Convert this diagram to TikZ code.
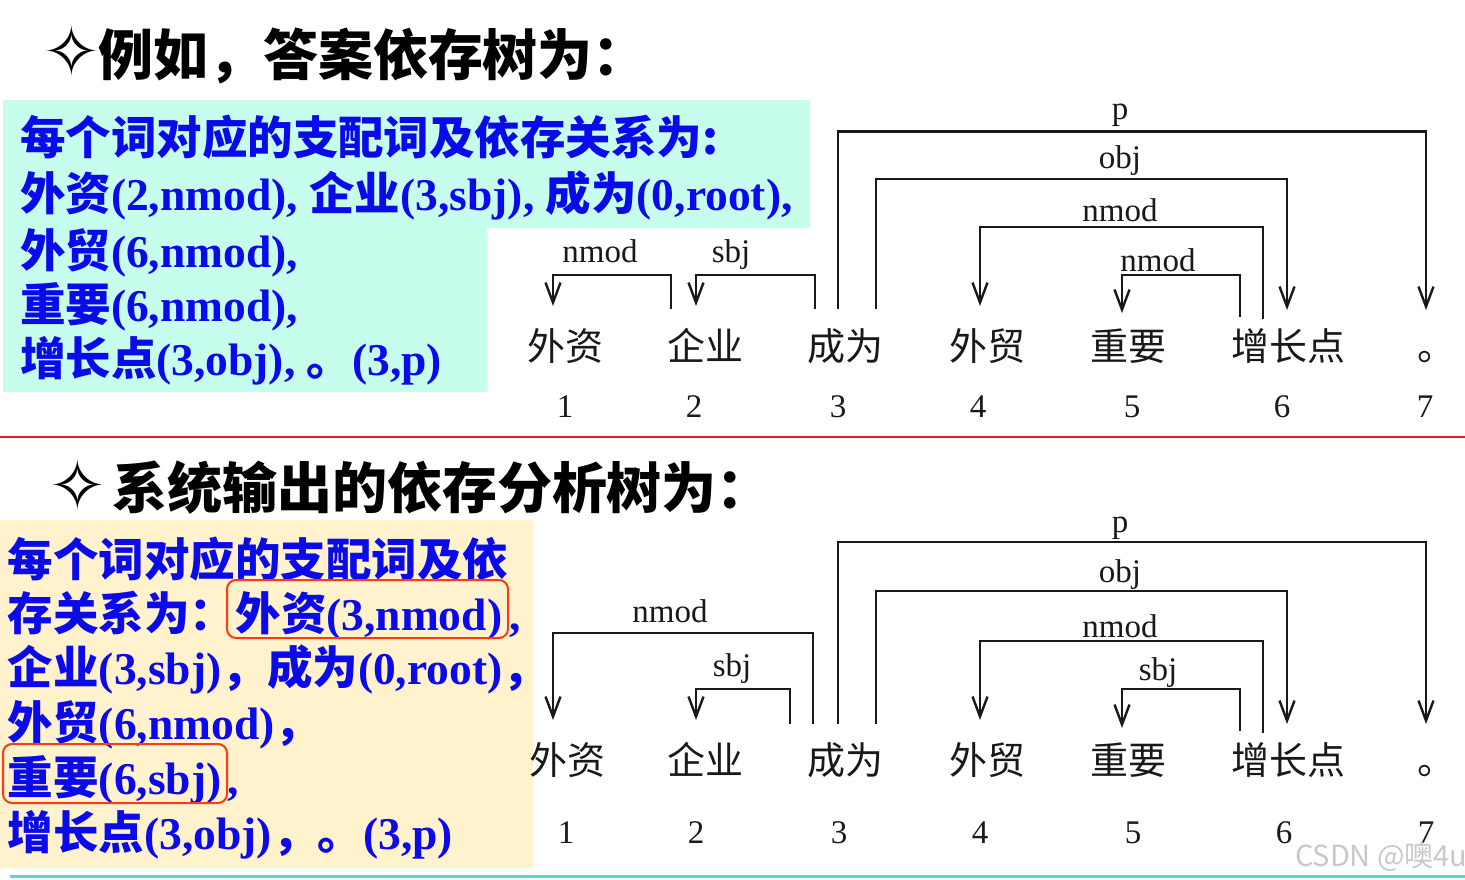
\documentclass[tikz,border=0pt]{standalone}
\usepackage{fontspec}
\setmainfont{Liberation Serif}
\newfontfamily\cjk{Noto Sans CJK SC}
\newfontfamily\sym{DejaVu Sans}
\usetikzlibrary{arrows.meta}
\definecolor{mint}{RGB}{198,253,236}
\definecolor{cream}{RGB}{255,242,204}
\definecolor{blueT}{RGB}{10,10,235}
\definecolor{redL}{RGB}{228,30,36}
\definecolor{redBox}{RGB}{250,60,20}
\definecolor{tealL}{RGB}{90,212,212}
\definecolor{ink}{RGB}{25,25,25}
\definecolor{wm}{RGB}{200,200,200}
\newcommand\zh[1]{{\cjk #1}}
\begin{document}
\begin{tikzpicture}[x=1pt,y=-1pt,
  every node/.style={inner sep=0pt, outer sep=0pt},
  title/.style={anchor=base west, font=\fontsize{55}{55}\selectfont\cjk\bfseries},
  star/.style={font=\fontsize{70}{70}\selectfont\sym},
  bl/.style={anchor=base west, text=blueT, font=\fontsize{45.5}{45.5}\selectfont\bfseries},
  word/.style={anchor=base, text=ink, font=\fontsize{38}{38}\selectfont\cjk},
  num/.style={anchor=base, text=ink, font=\fontsize{33}{33}\selectfont},
  lab/.style={anchor=base, text=ink, font=\fontsize{33}{33}\selectfont},
  dep/.style={draw=ink, line width=2.4pt},
  arr/.style={dep, -{Straight Barb[length=20pt,width=15pt]}},
  hl/.style={draw=redBox, line width=2pt, rounded corners=9pt},
]
\useasboundingbox (0,0) rectangle (1465,880);
\fill[white] (0,0) rectangle (1465,880);

% ---------- top part ----------
\node[star] (s1) at (72,51) {✧};
\node[title] (t1) at (98,76) {例如，答案依存树为：};

\fill[mint] (3,100) -- (810,100) -- (810,228) -- (487,228) -- (487,392) -- (3,392) -- cycle;
\node[bl] (a1) at (20,154) {\zh{每个词对应的支配词及依存关系为:}};
\node[bl] (a2) at (20,210) {\zh{外资}(2,nmod), \zh{企业}(3,sbj), \zh{成为}(0,root),};
\node[bl] (a3) at (20,267) {\zh{外贸}(6,nmod),};
\node[bl] (a4) at (20,321) {\zh{重要}(6,nmod),};
\node[bl] (a5) at (20,375) {\zh{增长点}(3,obj), \zh{。}(3,p)};

% words and numbers (top)
\node[word] (tw1) at (565,360) {外资};
\node[word] (tw2) at (705,360) {企业};
\node[word] (tw3) at (845,360) {成为};
\node[word] (tw4) at (987,360) {外贸};
\node[word] (tw5) at (1128,360) {重要};
\node[word] (tw6) at (1288,360) {增长点};
\node[word, anchor=base west] (tw7) at (1417,360) {。};
\node[num] (tn1) at (565,417) {1};
\node[num] (tn2) at (694,417) {2};
\node[num] (tn3) at (838,417) {3};
\node[num] (tn4) at (978,417) {4};
\node[num] (tn5) at (1132,417) {5};
\node[num] (tn6) at (1282,417) {6};
\node[num] (tn7) at (1425,417) {7};

% arc endpoints (top)
\coordinate (T1a) at (553,306);
\coordinate (T2s) at (671,309);
\coordinate (T2a) at (696,306);
\coordinate (T3s) at (815,309);
\coordinate (T3p) at (838,309);
\coordinate (T3o) at (876,309);
\coordinate (T4a) at (980,306);
\coordinate (T5a) at (1122,313);
\coordinate (T6m) at (1240,317);
\coordinate (T6n) at (1263,319);
\coordinate (T6a) at (1287,310);
\coordinate (T7a) at (1426,310);

\draw[arr] (T2s) -- ++(0,-34) -| (T1a);
\draw[arr] (T3s) -- ++(0,-34) -| (T2a);
\draw[arr] (T3p) -- ++(0,-177.5) -| (T7a);
\draw[arr] (T3o) -- ++(0,-130) -| (T6a);
\draw[arr] (T6n) -- ++(0,-92) -| (T4a);
\draw[arr] (T6m) -- ++(0,-42) -| (T5a);

\node[lab] (tl1) at (600,262) {nmod};
\node[lab] (tl2) at (731,262) {sbj};
\node[lab] (tl3) at (1120,120) {p};
\node[lab] (tl4) at (1120,168) {obj};
\node[lab] (tl5) at (1120,222) {nmod};
\node[lab] (tl6) at (1158,271) {nmod};

% separator
\draw[redL, line width=2pt] (0,437) -- (1465,437);

% ---------- bottom part ----------
\node[star] (s2) at (78,485) {✧};
\node[title] (t2) at (112,508) {系统输出的依存分析树为：};

\fill[cream] (0,520) rectangle (533,868);
\node[bl] (b1) at (8,576) {\zh{每个词对应的支配词及依}};
\node[bl] (b2a) at (8,630) {\zh{存关系为：}};
\node[bl] (b2b) at (b2a.base east) {\zh{外资}(3,nmod)};
\node[bl, xshift=7pt] (b2c) at (b2b.base east) {,};
\node[bl] (b3) at (8,684) {\zh{企业}(3,sbj)\zh{，}\zh{成为}(0,root)\zh{，}};
\node[bl] (b4) at (8,739) {\zh{外贸}(6,nmod)\zh{，}};
\node[bl] (b5a) at (8,794) {\zh{重要}(6,sbj)};
\node[bl, xshift=6pt] (b5b) at (b5a.base east) {,};
\node[bl] (b6) at (8,849) {\zh{增长点}(3,obj)\zh{，}\zh{。}(3,p)};
\draw[hl] (227,580) rectangle (508,638);
\draw[hl] (3,744) rectangle (227,803);

% words and numbers (bottom)
\node[word] (bw1) at (567,774) {外资};
\node[word] (bw2) at (705,774) {企业};
\node[word] (bw3) at (845,774) {成为};
\node[word] (bw4) at (987,774) {外贸};
\node[word] (bw5) at (1128,774) {重要};
\node[word] (bw6) at (1288,774) {增长点};
\node[word, anchor=base west] (bw7) at (1417,774) {。};
\node[num] (bn1) at (566,843) {1};
\node[num] (bn2) at (696,843) {2};
\node[num] (bn3) at (839,843) {3};
\node[num] (bn4) at (980,843) {4};
\node[num] (bn5) at (1133,843) {5};
\node[num] (bn6) at (1284,843) {6};
\node[num] (bn7) at (1426,843) {7};

% arc endpoints (bottom)
\coordinate (B1a) at (553,720);
\coordinate (B2a) at (696,720);
\coordinate (B3s) at (790,724);
\coordinate (B3n) at (813,724);
\coordinate (B3p) at (838,724);
\coordinate (B3o) at (876,724);
\coordinate (B4a) at (980,720);
\coordinate (B5a) at (1122,728);
\coordinate (B6m) at (1240,731);
\coordinate (B6n) at (1263,733);
\coordinate (B6a) at (1287,724);
\coordinate (B7a) at (1426,724);

\draw[arr] (B3n) -- ++(0,-91) -| (B1a);
\draw[arr] (B3s) -- ++(0,-35) -| (B2a);
\draw[arr] (B3p) -- ++(0,-182) -| (B7a);
\draw[arr] (B3o) -- ++(0,-133) -| (B6a);
\draw[arr] (B6n) -- ++(0,-92) -| (B4a);
\draw[arr] (B6m) -- ++(0,-42) -| (B5a);

\node[lab] (bl1) at (670,622) {nmod};
\node[lab] (bl2) at (732,676) {sbj};
\node[lab] (bl3) at (1120,532) {p};
\node[lab] (bl4) at (1120,582) {obj};
\node[lab] (bl5) at (1120,637) {nmod};
\node[lab] (bl6) at (1158,680) {sbj};

% bottom rule and watermark
\draw[tealL, line width=3pt] (10,876) -- (1465,876);
\node[anchor=base west, text=wm, font=\fontsize{29}{29}\selectfont\cjk] (wmk) at (1295,866) {CSDN @噢4u};
\end{tikzpicture}
\end{document}
